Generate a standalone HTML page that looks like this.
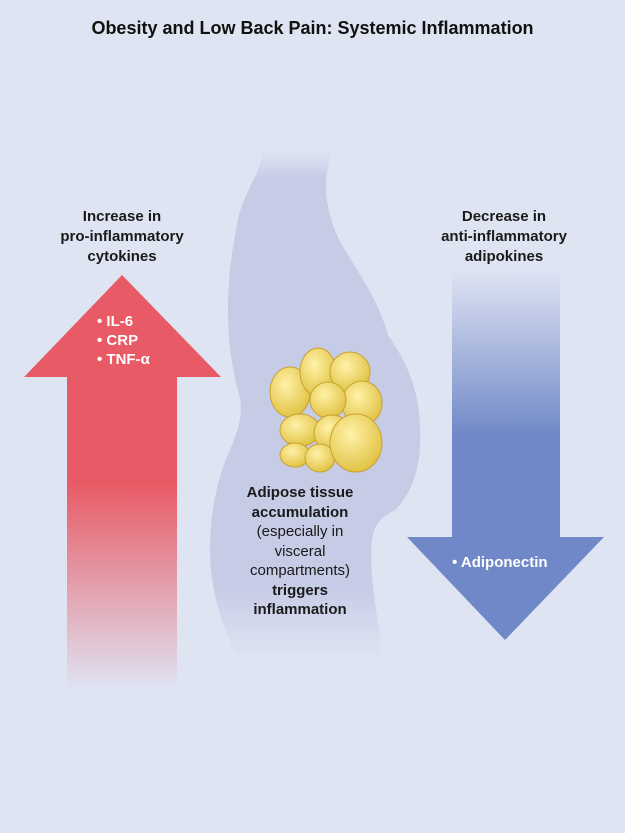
<!DOCTYPE html>
<html><head><meta charset="utf-8"><style>
body{margin:0;width:625px;height:833px;background:#dfe4f3;position:relative;overflow:hidden;font-family:"Liberation Sans",sans-serif;color:#1a1a1a}
.t{position:absolute;text-align:center;font-size:15px;line-height:20px}
b{font-weight:bold}
</style></head><body>
<svg width="625" height="833" style="position:absolute;left:0;top:0">
<defs>
<linearGradient id="r" x1="0" y1="0" x2="0" y2="1"><stop offset="0" stop-color="#e85a65"/><stop offset="0.5" stop-color="#e85a65"/><stop offset="1" stop-color="#e85a65" stop-opacity="0"/></linearGradient>
<linearGradient id="bl" x1="0" y1="0" x2="0" y2="1"><stop offset="0" stop-color="#7088c7" stop-opacity="0"/><stop offset="0.45" stop-color="#7088c7"/><stop offset="1" stop-color="#7088c7"/></linearGradient>
<linearGradient id="bd" x1="0" y1="0" x2="0" y2="1"><stop offset="0" stop-color="#c6cbe6" stop-opacity="0"/><stop offset="0.06" stop-color="#c6cbe6"/><stop offset="0.85" stop-color="#c6cbe6"/><stop offset="1" stop-color="#c6cbe6" stop-opacity="0"/></linearGradient>
<radialGradient id="f" cx="0.4" cy="0.35" r="0.7"><stop offset="0" stop-color="#fff2a8"/><stop offset="1" stop-color="#e0c040"/></radialGradient>
</defs>
<path d="M262 150 C262 175 240 195 236 230 C226 280 224 340 238 390 C244 410 240 425 232 445 C218 475 210 510 210 550 C210 590 222 625 238 660 L382 660 C380 620 368 580 372 540 C374 525 380 518 395 510 C415 490 422 460 420 425 C418 385 405 360 388 335 C378 300 360 275 348 255 C332 230 325 205 326 180 C328 165 330 155 332 150 Z" fill="url(#bd)"/>
<path d="M24 377 L122 275 L221 377 L177 377 L177 690 L67 690 L67 377 Z" fill="url(#r)"/>
<path d="M452 270 L560 270 L560 537 L604 537 L505 640 L407 537 L452 537 Z" fill="url(#bl)"/>
<g fill="url(#f)" stroke="#c9a22e" stroke-width="1">
<ellipse cx="290" cy="392" rx="20" ry="25"/>
<ellipse cx="318" cy="372" rx="18" ry="24"/>
<ellipse cx="350" cy="372" rx="20" ry="20"/>
<ellipse cx="362" cy="403" rx="20" ry="22"/>
<ellipse cx="328" cy="400" rx="18" ry="18"/>
<ellipse cx="300" cy="430" rx="20" ry="16"/>
<ellipse cx="332" cy="433" rx="18" ry="18"/>
<ellipse cx="295" cy="455" rx="15" ry="12"/>
<ellipse cx="320" cy="458" rx="15" ry="14"/>
<ellipse cx="356" cy="443" rx="26" ry="29"/>
</g>
</svg>
<div class="t" style="left:0;width:625px;top:17px;font-size:18px;line-height:22px;font-weight:bold;color:#111">Obesity and Low Back Pain: Systemic Inflammation</div>
<div class="t" style="left:22px;width:200px;top:207px"><b>Increase in<br>pro-inflammatory<br>cytokines</b></div>
<div class="t" style="left:404px;width:200px;top:207px"><b>Decrease in<br>anti-inflammatory<br>adipokines</b></div>
<div class="t" style="left:97px;top:312px;text-align:left;color:#fff;line-height:19px"><b>• IL-6<br>• CRP<br>• TNF-α</b></div>
<div class="t" style="left:452px;top:553px;text-align:left;color:#fff"><b>• Adiponectin</b></div>
<div class="t" style="left:215px;width:170px;top:483px;line-height:19.5px"><b>Adipose tissue<br>accumulation</b><br>(especially in<br>visceral<br>compartments)<br><b>triggers<br>inflammation</b></div>
</body></html>
